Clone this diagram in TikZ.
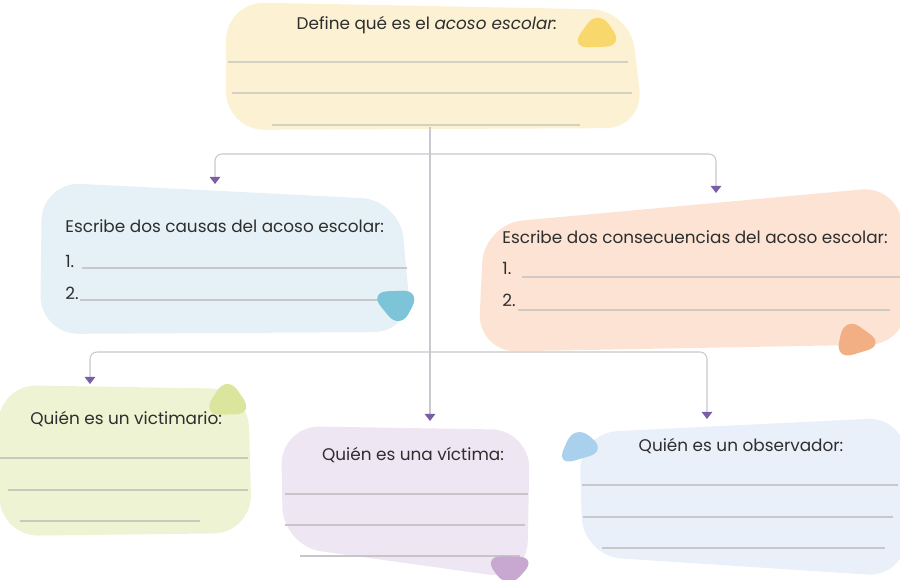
\documentclass[tikz,border=0pt]{standalone}
\usepackage{fontspec}
\setmainfont{Poppins}
\usetikzlibrary{arrows.meta}
\definecolor{amarillo}{HTML}{FCF1D3}
\definecolor{celeste}{HTML}{E5F1F6}
\definecolor{durazno}{HTML}{FCE3D3}
\definecolor{verde}{HTML}{EEF3D3}
\definecolor{lila}{HTML}{EEE6F3}
\definecolor{azulado}{HTML}{E9F0F9}
\definecolor{gota1}{HTML}{F8D86C}
\definecolor{gota2}{HTML}{7DC4D8}
\definecolor{gota3}{HTML}{F2AF84}
\definecolor{gota4}{HTML}{DCE59C}
\definecolor{gota5}{HTML}{C8A7D1}
\definecolor{gota6}{HTML}{A9D0EC}
\definecolor{lineagris}{HTML}{C8C8CE}
\definecolor{flecha}{HTML}{7A5DA6}
\definecolor{texto}{HTML}{2E2E2E}
\begin{document}
\begin{tikzpicture}[x=0.02cm,y=-0.02cm,
	conn/.style={draw=lineagris,line width=0.6pt,rounded corners=4pt,-{Triangle[width=6pt,length=4pt,color=flecha]}},
	titulo/.style={inner sep=0pt,font=\fontsize{9.6}{11}\selectfont,text=texto},
	blob/.style={rounded corners=22pt},
	gota/.style={rounded corners=10.5pt},
	renglon/.style={line width=0.6pt}]
	\useasboundingbox (0,0) rectangle (900,580);
	% fondos
	\fill[amarillo,blob] (226,2) -- (630,10) -- (644,128) -- (226,130) -- cycle;
	\fill[celeste,blob] (42,182) -- (400,200) -- (412,332) -- (40,334) -- cycle;
	\fill[durazno,blob] (484,224) -- (900,186) -- (908,344) -- (478,352) -- cycle;
	\fill[verde,blob] (-2,385) -- (248,389) -- (252,533) -- (0,536) -- cycle;
	\fill[lila,blob] (281,426) -- (530,430) -- (527,580) -- (283,546) -- cycle;
	\fill[azulado,blob] (579,433) -- (906,417) -- (906,577) -- (583,556) -- cycle;
	% renglones
	\draw[renglon,amarillo!70!black!55] (228,62) -- (628,62) (232,93) -- (632,93) (272,125) -- (580,125);
	\draw[renglon,celeste!65!black!55] (82,268) -- (407,268) (80,300) -- (380,300);
	\draw[renglon,durazno!65!black!50] (522,277) -- (900,277) (518,310) -- (890,310);
	\draw[renglon,verde!65!black!55] (0,458) -- (248,458) (8,490) -- (248,490) (20,521) -- (200,521);
	\draw[renglon,lila!65!black!55] (285,494) -- (528,494) (285,525) -- (525,525) (300,556) -- (520,556);
	\draw[renglon,azulado!65!black!55] (582,485) -- (898,485) (583,517) -- (893,517) (602,548) -- (885,548);
	% gotas
	\fill[gota1,gota] (570,48) -- (598,9) -- (624,46) -- cycle;
	\fill[gota2,gota] (369,292) -- (421,290) -- (400,330) -- cycle;
	\fill[gota3,gota] (835,360) -- (845,316) -- (885,345) -- cycle;
	\fill[gota4,gota] (202,415) -- (227,375) -- (254,414) -- cycle;
	\fill[gota5,gota] (483,556) -- (537,557) -- (508,590) -- cycle;
	\fill[gota6,gota] (556,466) -- (575,424) -- (607,451) -- cycle;
	% textos
	\node[titulo,anchor=base](define) at (427,30){Define qué es el \emph{acoso escolar:}};
	\node[titulo,anchor=base west](causas) at (65,233){Escribe dos causas del acoso escolar:};
	\node[titulo,anchor=base west] at (65,268){1.};
	\node[titulo,anchor=base west] at (65,300){2.};
	\node[titulo,anchor=base west](consec) at (502,244){Escribe dos consecuencias del acoso escolar:};
	\node[titulo,anchor=base west] at (502,275){1.};
	\node[titulo,anchor=base west] at (502,307){2.};
	\node[titulo,anchor=base west](victimario) at (30,425){Quién es un victimario:};
	\node[titulo,anchor=base](victima) at (413,461){Quién es una víctima:};
	\node[titulo,anchor=base](observador) at (741,452){Quién es un observador:};
	% conectores
	\coordinate (tronco) at (430,127);
	\coordinate (j1) at (430,154);
	\coordinate (j2) at (430,352);
	\coordinate (a1) at (215,184);
	\coordinate (a2) at (716,193);
	\coordinate (a3) at (90,384);
	\coordinate (a4) at (430,421);
	\coordinate (a5) at (707,419);
	\draw[conn] (tronco) -- (a4);
	\draw[conn] (j1) -| (a1);
	\draw[conn] (j1) -| (a2);
	\draw[conn] (j2) -| (a3);
	\draw[conn] (j2) -| (a5);
\end{tikzpicture}
\end{document}
